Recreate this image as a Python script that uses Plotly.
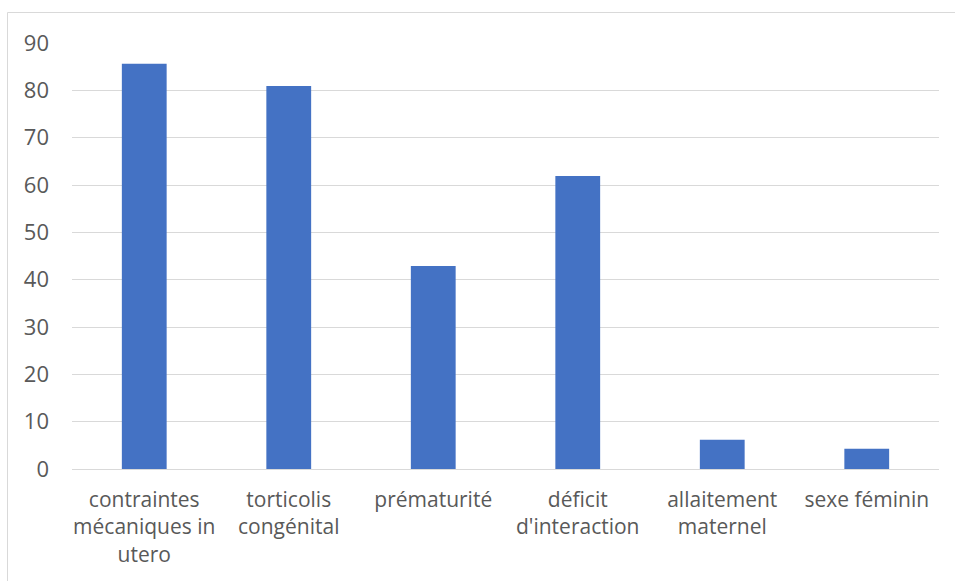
import plotly.graph_objects as go

# Chart data
categories = [
    "contraintes<br>mécaniques in<br>utero",
    "torticolis<br>congénital",
    "prématurité",
    "déficit<br>d'interaction",
    "allaitement<br>maternel",
    "sexe féminin",
]
values = [85.6, 80.9, 42.9, 61.9, 6.2, 4.3]
y_ticks = [0, 10, 20, 30, 40, 50, 60, 70, 80, 90]

W, H = 955, 581
L, R, T, B = 72, 16, 43, 112
pw, ph = W - L - R, H - T - B

def px_x(p):
    return (p - L) / pw

def px_y(p):
    return 1 - (p - T) / ph

font_family = "'Open Sans', sans-serif"
text_color = "#595959"
grid_color = "#d9d9d9"

fig = go.Figure(
    go.Bar(
        x=categories,
        y=values,
        marker=dict(color="#4472c4", line=dict(width=0)),
        hoverinfo="x+y",
    )
)

fig.update_layout(
    width=W,
    height=H,
    margin=dict(l=L, r=R, t=T, b=B),
    paper_bgcolor="white",
    plot_bgcolor="white",
    bargap=0.69,
    showlegend=False,
    font=dict(family=font_family, color=text_color, size=21),
    xaxis=dict(
        showgrid=False,
        showline=False,
        ticks="",
        tickfont=dict(size=21, color=text_color),
        ticklabelstandoff=16,
        tickangle=0,
    ),
    yaxis=dict(
        range=[0, 90],
        tickvals=y_ticks,
        showgrid=True,
        gridcolor=grid_color,
        gridwidth=1,
        zeroline=True,
        zerolinecolor=grid_color,
        zerolinewidth=1,
        showline=False,
        ticks="",
        tickfont=dict(size=22, color=text_color),
        ticklabelstandoff=22,
    ),
    shapes=[
        # chart-area frame (top and left edges visible)
        dict(
            type="rect",
            xref="paper",
            yref="paper",
            x0=px_x(7.5),
            x1=px_x(W + 20),
            y0=px_y(H + 20),
            y1=px_y(12.5),
            line=dict(color=grid_color, width=1),
            fillcolor="rgba(0,0,0,0)",
            layer="below",
        )
    ],
)

fig.write_html("out.html")
